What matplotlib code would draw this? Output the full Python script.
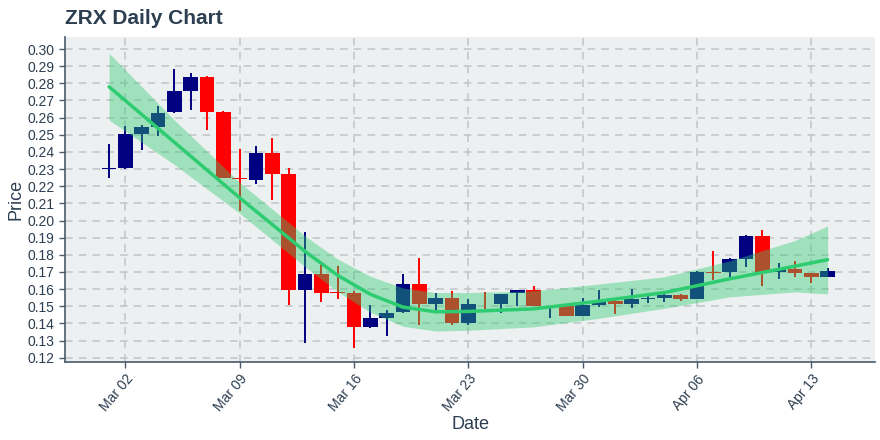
import matplotlib
matplotlib.use("Agg")
import matplotlib.pyplot as plt
import matplotlib.dates as mdates
import numpy as np
import pandas as pd

plt.rcParams["font.family"] = ["Liberation Sans", "DejaVu Sans"]

# ---------------- data ----------------
dates = pd.date_range("2020-03-01", "2020-04-14", freq="D")
opens = [0.2300, 0.2304, 0.2506, 0.2547, 0.2630, 0.2757, 0.2837, 0.2634, 0.2250, 0.2238,
         0.2394, 0.2273, 0.1597, 0.1688, 0.1580, 0.1575, 0.1381, 0.1431, 0.1465, 0.1630,
         0.1515, 0.1546, 0.1402, 0.1513, 0.1512, 0.1575, 0.1595, 0.1501, 0.1501, 0.1445,
         0.1507, 0.1531, 0.1515, 0.1542, 0.1548, 0.1566, 0.1542, 0.1701, 0.1698, 0.1775,
         0.1911, 0.1701, 0.1715, 0.1692, 0.1672]
highs = [0.2444, 0.2551, 0.2555, 0.2668, 0.2882, 0.2858, 0.2845, 0.2638, 0.2417, 0.2434,
         0.2479, 0.2304, 0.1935, 0.1750, 0.1735, 0.1590, 0.1507, 0.1478, 0.1690, 0.1780,
         0.1577, 0.1587, 0.1542, 0.1583, 0.1573, 0.1597, 0.1618, 0.1504, 0.1503, 0.1548,
         0.1595, 0.1535, 0.1600, 0.1575, 0.1585, 0.1571, 0.1703, 0.1824, 0.1780, 0.1915,
         0.1945, 0.1750, 0.1766, 0.1694, 0.1721]
lows = [0.2250, 0.2298, 0.2411, 0.2494, 0.2625, 0.2644, 0.2528, 0.2248, 0.2057, 0.2211,
        0.2119, 0.1507, 0.1284, 0.1523, 0.1540, 0.1255, 0.1375, 0.1327, 0.1463, 0.1391,
        0.1478, 0.1391, 0.1390, 0.1478, 0.1462, 0.1501, 0.1499, 0.1433, 0.1443, 0.1443,
        0.1497, 0.1455, 0.1492, 0.1517, 0.1525, 0.1531, 0.1540, 0.1653, 0.1672, 0.1727,
        0.1618, 0.1661, 0.1669, 0.1634, 0.1670]
closes = [0.2305, 0.2504, 0.2545, 0.2627, 0.2755, 0.2837, 0.2634, 0.2250, 0.2244, 0.2394,
          0.2273, 0.1597, 0.1688, 0.1579, 0.1577, 0.1381, 0.1431, 0.1461, 0.1630, 0.1515,
          0.1546, 0.1402, 0.1513, 0.1511, 0.1571, 0.1595, 0.1501, 0.1503, 0.1445, 0.1507,
          0.1533, 0.1515, 0.1542, 0.1550, 0.1566, 0.1542, 0.1701, 0.1697, 0.1775, 0.1911,
          0.1701, 0.1715, 0.1692, 0.1672, 0.1706]

# trend line and confidence band, read at knot dates
trend_dates = pd.to_datetime(["2020-03-01", "2020-03-05", "2020-03-09", "2020-03-13", "2020-03-15",
                              "2020-03-17", "2020-03-19", "2020-03-21", "2020-03-23", "2020-03-27",
                              "2020-03-31", "2020-04-04", "2020-04-08", "2020-04-12", "2020-04-14"])
trend_mid = [0.2780, 0.2456, 0.2132, 0.1820, 0.1680, 0.1570, 0.1495, 0.1468, 0.1470, 0.1485,
             0.1530, 0.1580, 0.1660, 0.1734, 0.1772]
trend_upper = [0.2975, 0.2586, 0.2222, 0.1910, 0.1775, 0.1675, 0.1607, 0.1580, 0.1580, 0.1590,
               0.1630, 0.1672, 0.1765, 0.1884, 0.1968]
trend_lower = [0.2586, 0.2326, 0.2042, 0.1730, 0.1585, 0.1465, 0.1383, 0.1356, 0.1360, 0.1380,
               0.1430, 0.1488, 0.1555, 0.1584, 0.1572]

yticks = [0.12, 0.13, 0.14, 0.15, 0.16, 0.17, 0.18, 0.19, 0.20, 0.21, 0.22, 0.23, 0.24,
          0.25, 0.26, 0.27, 0.28, 0.29, 0.30]
xtick_dates = pd.to_datetime(["2020-03-02", "2020-03-09", "2020-03-16", "2020-03-23",
                              "2020-03-30", "2020-04-06", "2020-04-13"])

# ---------------- style ----------------
UP = "#000080"
DOWN = "#ff0000"
GREEN = "#2ecc71"
BG = "#ecf0f1"
TXT = "#2c3e50"

fig = plt.figure(figsize=(8.8, 4.4), dpi=100)
ax = fig.add_axes([0.0739, 0.178, 0.9204, 0.7386])
ax.set_facecolor(BG)

x = mdates.date2num(dates)
o = np.array(opens); h = np.array(highs); l = np.array(lows); c = np.array(closes)
colors = [UP if cc >= oo else DOWN for oo, cc in zip(o, c)]
body_h = np.maximum(np.abs(c - o), 0.00035)
body_b = np.minimum(o, c)

ax.vlines(x, l, h, colors=colors, linewidth=1.4, zorder=3)
ax.bar(x, body_h, bottom=body_b, width=0.9, color=colors, linewidth=0, zorder=3)

tx = mdates.date2num(trend_dates)
ax.fill_between(tx, trend_lower, trend_upper, color=GREEN, alpha=0.4, linewidth=0, zorder=4)
ax.plot(tx, trend_mid, color=GREEN, linewidth=2.5, zorder=5, solid_capstyle="round")

ax.set_xlim(x[0] - 2.7, x[-1] + 2.9)
ax.set_ylim(0.1177, 0.3072)
ax.set_yticks(yticks)
ax.set_yticklabels([f"{v:.2f}" for v in yticks])
ax.set_xticks(mdates.date2num(xtick_dates))
ax.set_xticklabels([d.strftime("%b %d") for d in xtick_dates], rotation=50,
                   ha="right", rotation_mode="anchor")

ax.grid(True, color="#c0c4c6", linestyle=(0, (5, 4)), linewidth=1.1, zorder=0)
ax.set_axisbelow(True)
for s in ["top", "right"]:
    ax.spines[s].set_visible(False)
for s in ["left", "bottom"]:
    ax.spines[s].set_color("#4a5a6a")
    ax.spines[s].set_linewidth(1.2)
ax.tick_params(axis="both", colors="#4a5a6a", labelcolor=TXT, labelsize=10, length=4, width=1)

ax.set_xlabel("Date", fontsize=13, color=TXT, labelpad=1)
ax.set_ylabel("Price", fontsize=13, color=TXT, labelpad=2)
fig.text(0.0739, 0.958, "ZRX Daily Chart", fontsize=15, fontweight="bold", color=TXT,
         ha="left", va="center")

fig.savefig("out.png", dpi=100, facecolor="white")
